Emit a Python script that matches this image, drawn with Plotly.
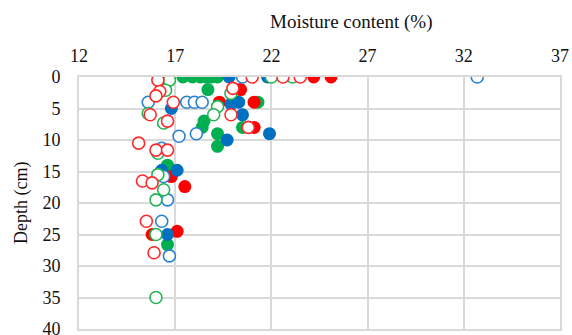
import plotly.graph_objects as go

# Soil moisture profiles: moisture content (%) against depth (cm)
red_fill_moist = [24.2, 25.1, 20.4, 19.3, 21.1, 21.1, 16.8, 17.5, 15.8, 17.1]
red_fill_depth = [0, 0, 2, 4, 4, 8, 15.8, 17.4, 25, 24.5]

blue_fill_moist = [19.8, 21.8, 19.9, 20.3, 16.8, 20.5, 21.9, 19.7, 16.3, 17.1, 16.6]
blue_fill_depth = [0, 0, 4.3, 4, 5, 6, 9, 10, 14.8, 14.8, 25]

green_fill_moist = [17.4, 17.9, 18.3, 18.6, 18.9, 19.2, 18.7, 21.3, 18.5, 18.4, 20.5, 19.2, 19.2, 16.6, 16.6]
green_fill_depth = [0, 0, 0, 0, 0, 0, 2, 4, 7, 8, 8, 9, 11, 14, 26.6]

red_open_moist = [16.1, 21.0, 22.6, 23.5, 20.0, 16.2, 16.0, 16.9, 15.7, 19.9, 16.6, 20.8,
                  15.1, 16.0, 16.6, 15.3, 15.8, 15.5, 15.9]
red_open_depth = [0.5, 0, 0, 0, 1.8, 2.3, 3, 4, 6, 6, 7, 8,
                  10.5, 11.6, 11.6, 16.5, 16.8, 22.9, 27.9]

blue_open_moist = [32.7, 20.5, 15.6, 17.6, 18.0, 18.4, 17.2, 18.1, 16.3, 16.4, 16.6, 16.3, 16.7]
blue_open_depth = [0, 0, 4, 4, 4, 4, 9.4, 9, 11.3, 15.8, 19.5, 22.9, 28.4]

green_open_moist = [16.7, 22.0, 23.1, 16.5, 19.9, 19.2, 15.6, 19.0, 16.4, 16.1, 16.1, 16.4,
                    16.0, 16.0, 16.0]
green_open_depth = [0.5, 0, 0, 2.1, 2.6, 4.7, 5.8, 6, 7.3, 12.1, 15.5, 17.9,
                    19.5, 25, 35]

x_ticks = [12, 17, 22, 27, 32, 37]
y_ticks = [0, 5, 10, 15, 20, 25, 30, 35, 40]

RED, BLUE, GREEN = "#FF0000", "#0070C0", "#00B050"
RED_O, BLUE_O, GREEN_O = "#FF2A2A", "#2A82CF", "#22B455"

fig = go.Figure()


def add_filled(x, y, color, name):
    fig.add_trace(go.Scatter(
        x=x, y=y, mode="markers", name=name,
        marker=dict(size=13, color=color, line=dict(width=0)),
    ))


def add_open(x, y, color, name):
    fig.add_trace(go.Scatter(
        x=x, y=y, mode="markers", name=name,
        marker=dict(size=12, color="white", line=dict(width=1.6, color=color)),
    ))


add_filled(green_fill_moist, green_fill_depth, GREEN, "Profile 3 (a)")
add_filled(red_fill_moist, red_fill_depth, RED, "Profile 1 (a)")
add_filled(blue_fill_moist, blue_fill_depth, BLUE, "Profile 2 (a)")
add_open(blue_open_moist, blue_open_depth, BLUE_O, "Profile 2 (b)")
add_open(green_open_moist, green_open_depth, GREEN_O, "Profile 3 (b)")
add_open(red_open_moist, red_open_depth, RED_O, "Profile 1 (b)")

FONT = "'Liberation Serif', 'Times New Roman', Tinos, serif"
GRID = "#D9D9D9"
TXT = "#111111"

fig.update_layout(
    width=572, height=335,
    margin=dict(l=79, r=12, t=77, b=6),
    paper_bgcolor="white", plot_bgcolor="white",
    showlegend=False,
    font=dict(family=FONT, size=18, color=TXT),
    xaxis=dict(
        side="top", range=[12, 37], tickvals=x_ticks, automargin=False,
        showgrid=True, gridcolor=GRID, gridwidth=1.8,
        showline=True, linecolor=GRID, linewidth=1.8, mirror=True,
        zeroline=False, ticks="outside", ticklen=6, tickcolor="rgba(0,0,0,0)",
        tickfont=dict(family=FONT, size=18, color=TXT),
        ticklabeloverflow="allow",
    ),
    yaxis=dict(
        range=[40, 0], tickvals=y_ticks, automargin=False,
        showgrid=True, gridcolor=GRID, gridwidth=1.8,
        showline=True, linecolor=GRID, linewidth=1.8, mirror=True,
        zeroline=False, ticks="outside", ticklen=13, tickcolor="rgba(0,0,0,0)",
        tickfont=dict(family=FONT, size=18, color=TXT),
        ticklabeloverflow="allow",
    ),
    annotations=[
        dict(text="Moisture content (%)", xref="paper", yref="paper",
             x=(351 - 79) / 481, y=(329 - 22) / 252, xanchor="center", yanchor="middle",
             showarrow=False, font=dict(family=FONT, size=19, color=TXT)),
        dict(text="Depth (cm)", xref="paper", yref="paper",
             x=(21 - 79) / 481, y=0.5, xanchor="center", yanchor="middle",
             textangle=-90, showarrow=False, font=dict(family=FONT, size=18, color=TXT)),
    ],
)

fig.write_html("out.html")
